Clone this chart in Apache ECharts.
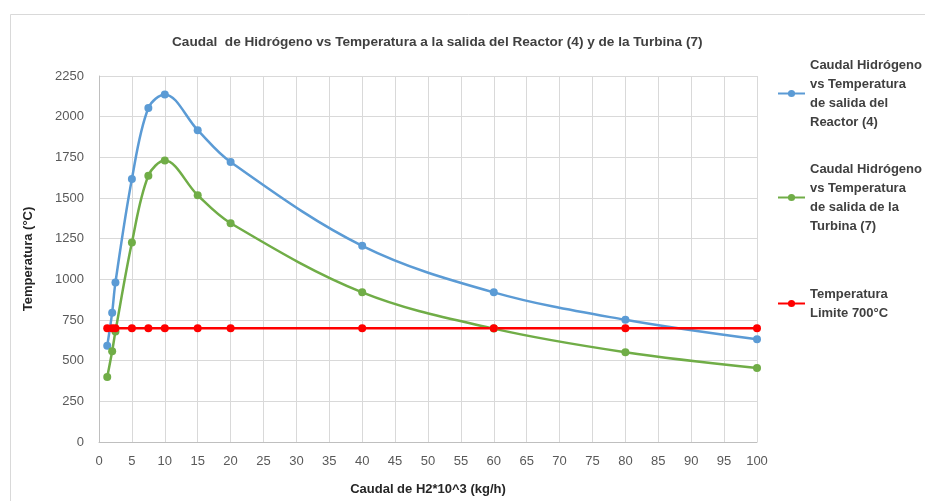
<!DOCTYPE html>
<html>
<head>
<meta charset="utf-8">
<script src="https://cdn.jsdelivr.net/npm/echarts@6/dist/echarts.min.js"></script>
<style>
html, body { margin: 0; background: #fff; }
#main { width: 925px; height: 501px; }
</style>
</head>
<body>
<div id="main"></div>
<script>
// caudal de H2 (x10^3 kg/h)
var caudal = [1.25, 2, 2.5, 5, 7.5, 10, 15, 20, 40, 60, 80, 100];
// temperaturas (°C)
var tempReactor = [591, 795, 981, 1617, 2053, 2137, 1917, 1721, 1206, 920, 751, 631];
var tempTurbina = [399, 558, 680, 1226, 1637, 1730, 1517, 1345, 920, 697, 552, 455];
var tempLimite = [700, 700, 700, 700, 700, 700, 700, 700, 700, 700, 700, 700];

var nombres = [
    'Caudal Hidrógeno\nvs Temperatura\nde salida del\nReactor (4)',
    'Caudal Hidrógeno\nvs Temperatura\nde salida de la\nTurbina (7)',
    'Temperatura\nLimite 700°C'
];
var colores = ['#5b9bd5', '#70ad47', '#ff0000'];

function pares(ys) {
    return caudal.map(function (x, i) { return [x, ys[i]]; });
}

var FONT = 'Liberation Sans';
var LH = 19;

// leyenda: el icono queda a la altura de la primera linea
function leyenda(nombre, top, lineas) {
    return {
        data: [nombre],
        orient: 'vertical',
        left: 777,
        top: top,
        padding: 0,
        itemWidth: 27,
        itemHeight: 9,
        selectedMode: false,
        textStyle: {
            fontFamily: FONT,
            fontWeight: 'bold',
            fontSize: 13,
            color: '#404040',
            lineHeight: LH,
            padding: [(lineas - 1) * LH, 0, 0, 0]
        }
    };
}

function serie(i, ys, smooth) {
    return {
        name: nombres[i],
        type: 'line',
        data: pares(ys),
        smooth: smooth,
        symbol: 'circle',
        symbolSize: 8,
        color: colores[i],
        lineStyle: { width: 2.5, color: colores[i] },
        itemStyle: { color: colores[i] }
    };
}

var chart = echarts.init(document.getElementById('main'));
chart.setOption({
    animation: false,
    backgroundColor: '#fff',
    title: {
        text: 'Caudal  de Hidrógeno vs Temperatura a la salida del Reactor (4) y de la Turbina (7)',
        left: 172,
        top: 35,
        padding: 0,
        textStyle: { fontFamily: FONT, fontWeight: 'bold', fontSize: 13.6, color: '#404040' }
    },
    graphic: [{
        type: 'rect',
        shape: { x: 10.5, y: 14.5, width: 1000, height: 700 },
        style: { fill: 'none', stroke: '#d9d9d9', lineWidth: 1 },
        silent: true
    }],
    legend: [
        leyenda(nombres[0], 27, 4),
        leyenda(nombres[1], 131, 4),
        leyenda(nombres[2], 275, 2)
    ],
    grid: { left: 99, right: 168, top: 76, bottom: 54 },
    xAxis: {
        type: 'value',
        min: 0, max: 100, interval: 5,
        name: 'Caudal de H2*10^3 (kg/h)',
        nameLocation: 'middle',
        nameGap: 41,
        nameTextStyle: { fontFamily: FONT, fontWeight: 'bold', fontSize: 13, color: '#262626' },
        axisLine: { lineStyle: { color: '#bfbfbf' } },
        axisTick: { show: false },
        axisLabel: { fontFamily: FONT, fontSize: 13, color: '#595959', margin: 13 },
        splitLine: { show: true, lineStyle: { color: '#d9d9d9', width: 1 } }
    },
    yAxis: {
        type: 'value',
        min: 0, max: 2250, interval: 250,
        name: 'Temperatura (°C)',
        nameLocation: 'middle',
        nameGap: 64,
        nameTextStyle: { fontFamily: FONT, fontWeight: 'bold', fontSize: 13, color: '#262626' },
        axisLine: { show: true, lineStyle: { color: '#bfbfbf' } },
        axisTick: { show: false },
        axisLabel: {
            fontFamily: FONT, fontSize: 13, color: '#595959', margin: 15,
            formatter: function (v) { return String(v); }
        },
        splitLine: { show: true, lineStyle: { color: '#d9d9d9', width: 1 } }
    },
    series: [
        serie(0, tempReactor, 0.35),
        serie(1, tempTurbina, 0.35),
        serie(2, tempLimite, false)
    ]
});
</script>
</body>
</html>
